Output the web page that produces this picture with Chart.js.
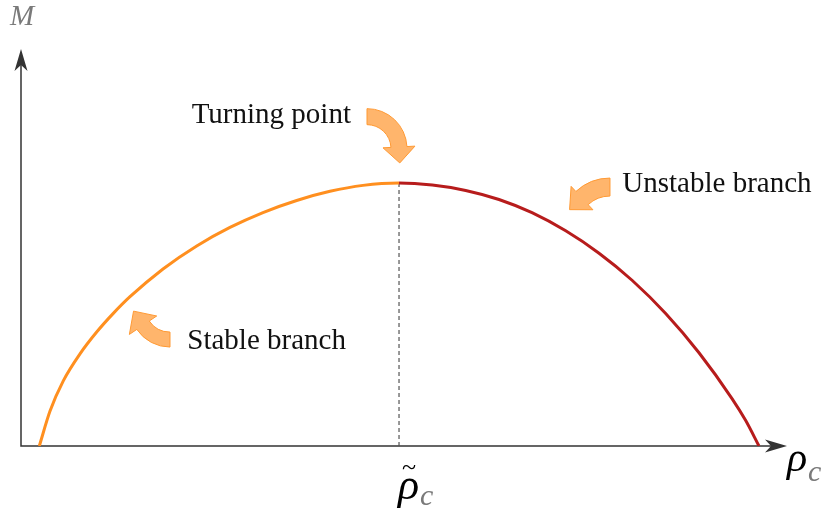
<!DOCTYPE html>
<html>
<head>
<meta charset="utf-8">
<script src="https://cdn.jsdelivr.net/npm/chart.js@4/dist/chart.umd.min.js"></script>
<style>
  html, body { margin: 0; padding: 0; background: #ffffff; }
  #wrap { width: 822px; height: 518px; }
</style>
</head>
<body>
<div id="wrap"><canvas id="chart" width="822" height="518"></canvas></div>
<script>
// Mass–central-density curve (arbitrary units)
const rhoValues  = [2.39, 3.79, 5.52, 7.70, 9.88, 12.05, 14.23, 18.54, 22.94, 27.28, 31.59, 35.99, 40.34, 44.65, 49.35,
                    53.69, 58.05, 62.40, 66.71, 71.11, 75.46, 79.77, 84.16, 88.51, 92.82, 94.61, 96.34];
const massValues = [0, 8.8, 16.4, 23.2, 28.7, 33.4, 37.6, 44.6, 50.4, 55.05, 58.8, 61.85, 64.15, 65.65, 66.25,
                    65.73, 64.38, 62.09, 58.77, 54.2, 48.56, 41.75, 33.38, 23.49, 11.94, 6.4, 0];
const peakRho  = 49.35;
const peakMass = 66.25;
const branchNames = ['Turning point', 'Unstable branch', 'Stable branch'];

const STABLE_COLOR   = '#ff8f1f';
const UNSTABLE_COLOR = '#b71c1c';
const AXIS_COLOR     = '#333333';
const SERIF = '"Liberation Serif", "Times New Roman", serif';

const curvePoints = rhoValues.map((r, i) => ({ x: r, y: massValues[i] }));

// Callouts: text anchors and curved block-arrows, placed in data coordinates
const callouts = [
  { text: branchNames[0], x: 22.28, y: 81.4,
    arrow: { x: 45.17, y: 74.9, rIn: 24, rOut: 40, a0: -90, a1: -3, head: 16, half: 16 } },
  { text: branchNames[1], x: 78.5, y: 64.05,
    arrow: { x: 76.89, y: 54.9, rIn: 32, rOut: 50, a0: -90, a1: -133, head: 17, half: 16 } },
  { text: branchNames[2], x: 21.71, y: 24.5,
    arrow: { x: 19.45, y: 35.0, rIn: 25, rOut: 40, a0: 90, a1: 146, head: 17, half: 16.5 } }
];

function curvedArrow(ctx, cx, cy, a) {
  const a0 = a.a0 * Math.PI / 180, a1 = a.a1 * Math.PI / 180;
  const dir = a1 > a0 ? 1 : -1;
  const rm = (a.rIn + a.rOut) / 2;
  const bx = Math.cos(a1), by = Math.sin(a1);
  const tx = -Math.sin(a1) * dir, ty = Math.cos(a1) * dir;
  ctx.beginPath();
  ctx.arc(cx, cy, a.rOut, a0, a1, dir < 0);
  ctx.lineTo(cx + bx * (rm + a.half), cy + by * (rm + a.half));
  ctx.lineTo(cx + bx * rm + tx * a.head, cy + by * rm + ty * a.head);
  ctx.lineTo(cx + bx * (rm - a.half), cy + by * (rm - a.half));
  ctx.lineTo(cx + bx * a.rIn, cy + by * a.rIn);
  ctx.arc(cx, cy, a.rIn, a1, a0, dir > 0);
  ctx.closePath();
  ctx.fillStyle = 'rgba(255,153,51,0.72)';
  ctx.fill();
  ctx.strokeStyle = '#ff9933';
  ctx.lineWidth = 1;
  ctx.stroke();
}

function stealthHead(ctx, tipX, tipY, dx, dy) {
  // dx,dy: unit direction of the arrow
  const len = 22, half = 6.5, notch = 6;
  const px = -dy, py = dx;
  ctx.beginPath();
  ctx.moveTo(tipX, tipY);
  ctx.lineTo(tipX - dx * len + px * half, tipY - dy * len + py * half);
  ctx.lineTo(tipX - dx * (len - notch), tipY - dy * (len - notch));
  ctx.lineTo(tipX - dx * len - px * half, tipY - dy * len - py * half);
  ctx.closePath();
  ctx.fillStyle = AXIS_COLOR;
  ctx.fill();
}

const axesPlugin = {
  id: 'axesWithArrows',
  beforeDatasetsDraw(chart) {
    const { ctx, chartArea: ca } = chart;
    ctx.save();
    ctx.strokeStyle = AXIS_COLOR;
    ctx.lineWidth = 1.5;
    ctx.beginPath();
    ctx.moveTo(ca.left, ca.top + 16);
    ctx.lineTo(ca.left, ca.bottom);
    ctx.lineTo(ca.right - 16, ca.bottom);
    ctx.stroke();
    stealthHead(ctx, ca.left, ca.top, 0, -1);
    stealthHead(ctx, ca.right, ca.bottom, 1, 0);
    ctx.restore();
  },
  afterDraw(chart) {
    const { ctx, chartArea: ca } = chart;
    const xs = chart.scales.x, ys = chart.scales.y;
    ctx.save();

    callouts.forEach(c => {
      curvedArrow(ctx, xs.getPixelForValue(c.arrow.x), ys.getPixelForValue(c.arrow.y), c.arrow);
      ctx.fillStyle = '#111111';
      ctx.font = '29px ' + SERIF;
      ctx.textAlign = 'left';
      ctx.textBaseline = 'alphabetic';
      ctx.fillText(c.text, xs.getPixelForValue(c.x), ys.getPixelForValue(c.y));
    });

    // Axis titles
    ctx.textBaseline = 'alphabetic';
    ctx.textAlign = 'left';
    ctx.fillStyle = '#7a7a7a';
    ctx.font = 'italic 29px ' + SERIF;
    ctx.fillText('M', ca.left - 11, ca.top - 24);

    // ρ_c at the end of the horizontal axis
    ctx.fillStyle = '#000000';
    ctx.font = 'italic 42px ' + SERIF;
    ctx.fillText('ρ', ca.right, ca.bottom + 25);
    ctx.fillStyle = '#7a7a7a';
    ctx.font = 'italic 30px ' + SERIF;
    ctx.fillText('c', ca.right + 21, ca.bottom + 35);

    // ρ̃_c under the turning point
    const px = xs.getPixelForValue(peakRho);
    ctx.fillStyle = '#000000';
    ctx.font = 'italic 44px ' + SERIF;
    ctx.fillText('ρ', px - 1, ca.bottom + 53);
    ctx.font = '26px ' + SERIF;
    ctx.fillText('~', px + 3, ca.bottom + 29);
    ctx.fillStyle = '#7a7a7a';
    ctx.font = 'italic 30px ' + SERIF;
    ctx.fillText('c', px + 21, ca.bottom + 59);
    ctx.restore();
  }
};

new Chart(document.getElementById('chart'), {
  type: 'scatter',
  data: {
    datasets: [
      {
        label: 'M(ρc)',
        data: curvePoints,
        showLine: true,
        pointRadius: 0,
        borderWidth: 3,
        borderColor: STABLE_COLOR,
        cubicInterpolationMode: 'monotone',
        segment: {
          borderColor: ctx => ctx.p0.parsed.x < peakRho ? STABLE_COLOR : UNSTABLE_COLOR
        },
        order: 1
      },
      {
        label: 'turning',
        data: [{ x: peakRho, y: 0 }, { x: peakRho, y: peakMass }],
        showLine: true,
        pointRadius: 0,
        borderWidth: 1.2,
        borderColor: '#555555',
        borderDash: [4, 3],
        order: 2
      }
    ]
  },
  options: {
    responsive: false,
    animation: false,
    devicePixelRatio: 1,
    layout: { padding: { left: 21, right: 35, top: 49, bottom: 72 } },
    plugins: { legend: { display: false }, tooltip: { enabled: false } },
    scales: {
      x: { type: 'linear', min: 0, max: 100, display: false },
      y: { type: 'linear', min: 0, max: 100, display: false }
    }
  },
  plugins: [axesPlugin]
});
</script>
</body>
</html>
